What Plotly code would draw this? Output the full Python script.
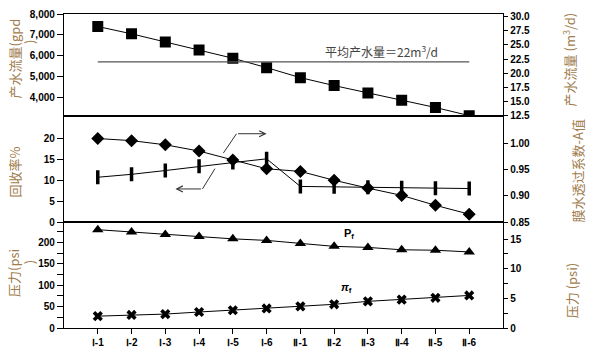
import plotly.graph_objects as go
from plotly.subplots import make_subplots

# ---------------- data ----------------
categories = ["Ⅰ-1", "Ⅰ-2", "Ⅰ-3", "Ⅰ-4", "Ⅰ-5", "Ⅰ-6",
              "Ⅱ-1", "Ⅱ-2", "Ⅱ-3", "Ⅱ-4", "Ⅱ-5", "Ⅱ-6"]
permeate_flow_gpd = [7400, 7050, 6660, 6280, 5880, 5430, 4950, 4570, 4220, 3870, 3520, 3130]
avg_flow_m3d = 22
recovery_pct = [10.7, 11.4, 12.3, 13.3, 14.2, 15.1, 8.5, 8.4, 8.3, 8.2, 8.1, 8.0]
a_value = [1.010, 1.006, 0.998, 0.986, 0.969, 0.952, 0.947, 0.930, 0.915, 0.901, 0.882, 0.865]
feed_pressure_psi = [230, 224.5, 219, 214, 208.6, 205, 198, 191, 188.6, 183, 182, 178]
osmotic_pressure_psi = [2.0, 2.2, 2.35, 2.7, 3.0, 3.3, 3.65, 4.0, 4.5, 4.8, 5.1, 5.5]

# ---------------- figure ----------------
W, H = 590, 356
L, R, T, B = 64, 59, 8, 23
PW, PH = W - L - R, H - T - B

def px(xp):
    return (xp - L) / PW

def py(yp):
    return (H - B - yp) / PH

TICK_FAMILY = "Liberation Sans Narrow, Arial Narrow, Arial, sans-serif"
TICK_FONT = dict(family=TICK_FAMILY, size=10, color="black", weight="bold")
TITLE_COLOR = "#a07c4c"

fig = make_subplots(rows=3, cols=1, shared_xaxes=True, vertical_spacing=0,
                    specs=[[{"secondary_y": True}]] * 3)

blk = "black"
fig.add_trace(go.Scatter(x=categories, y=permeate_flow_gpd, mode="lines+markers",
                         marker=dict(symbol="square", size=11, color=blk),
                         line=dict(color=blk, width=1)), row=1, col=1, secondary_y=False)
fig.add_trace(go.Scatter(x=[categories[0], categories[-1]], y=[avg_flow_m3d, avg_flow_m3d],
                         mode="lines", line=dict(color="#555555", width=1.3)),
              row=1, col=1, secondary_y=True)

fig.add_trace(go.Scatter(x=categories, y=recovery_pct, mode="lines+markers",
                         marker=dict(symbol="line-ns", size=10, color=blk,
                                     line=dict(color=blk, width=3.5)),
                         line=dict(color=blk, width=1)), row=2, col=1, secondary_y=False)
fig.add_trace(go.Scatter(x=categories, y=a_value, mode="lines+markers",
                         marker=dict(symbol="diamond", size=10, color=blk),
                         line=dict(color=blk, width=1)), row=2, col=1, secondary_y=True)

fig.add_trace(go.Scatter(x=categories, y=feed_pressure_psi, mode="lines+markers",
                         marker=dict(symbol="triangle-up", size=10, color=blk),
                         line=dict(color=blk, width=1)), row=3, col=1, secondary_y=False)
fig.add_trace(go.Scatter(x=categories, y=osmotic_pressure_psi, mode="lines+markers",
                         marker=dict(symbol="x", size=9, color=blk),
                         line=dict(color=blk, width=1)), row=3, col=1, secondary_y=True)

# domains (pixels: top 8-113, middle 113-223, bottom 223-333)
d_top = [py(113.3), 1]
d_mid = [py(223.3), py(113.3)]
d_bot = [0, py(223.3)]

axis_common = dict(showline=True, linecolor=blk, linewidth=1.3, showgrid=False,
                   zeroline=False, tickfont=TICK_FONT, ticks="outside",
                   tickcolor=blk, tickwidth=1.3)

xcommon = dict(type="category", range=[-1, 12], showline=True, linecolor=blk,
               linewidth=1.3, mirror=True, showgrid=False, zeroline=False)
fig.update_layout(
    xaxis=dict(**xcommon, showticklabels=False, ticks=""),
    xaxis2=dict(**xcommon, showticklabels=False, ticks=""),
    xaxis3=dict(**xcommon, ticks="outside", ticklen=5, tickcolor=blk, tickwidth=1.3,
                tickfont=TICK_FONT),
    yaxis=dict(**axis_common, domain=d_top, range=[3125, 8000], ticklen=6,
               tickvals=[4000, 5000, 6000, 7000, 8000], tickformat=",d"),
    yaxis2=dict(**axis_common, domain=d_top, range=[12.5, 30.46], ticklen=4,
                tickvals=[12.5, 15, 17.5, 20, 22.5, 25, 27.5, 30], tickformat=".1f"),
    yaxis3=dict(**axis_common, domain=d_mid, range=[0, 25.4], ticklen=6,
                tickvals=[0, 5, 10, 15, 20]),
    yaxis4=dict(**axis_common, domain=d_mid, range=[0.85, 1.0537], ticklen=4,
                tickvals=[0.85, 0.90, 0.95, 1.00], tickformat=".2f"),
    yaxis5=dict(**axis_common, domain=d_bot, range=[0, 248], ticklen=6,
                tickvals=[0, 50, 100, 150, 200],
                minor=dict(tickvals=[25, 75, 125, 175, 225], ticks="outside",
                           ticklen=6, tickcolor=blk, tickwidth=1.3)),
    yaxis6=dict(**axis_common, domain=d_bot, range=[0, 17.9], ticklen=4,
                tickvals=[0, 5, 10, 15],
                minor=dict(tickvals=[2.5, 7.5, 12.5], ticks="outside",
                           ticklen=4, tickcolor=blk, tickwidth=1.3)),
)

annotations = []

def title(text, xp, yp, size=13):
    annotations.append(dict(text=text, x=px(xp), y=py(yp), xref="paper", yref="paper",
                            showarrow=False, textangle=-90, xanchor="center",
                            yanchor="middle",
                            font=dict(family="Noto Sans CJK SC, sans-serif", size=size,
                                      color=TITLE_COLOR)))

title("产水流量(gpd", 14, 54)
title(")", 29, 37)
title("回收率%", 14, 172)
title("压力(psi", 14, 276)
title(")", 29, 265)
title("产水流量 (m<sup>3</sup>/d)", 569, 55)
title("膜水透过系数-A值", 577, 171)
title("压力 (psi)", 571, 295)

annotations.append(dict(text="平均产水量＝22m<sup>3</sup>/d", x=8.39, y=23.9, xref="x", yref="y2",
                        showarrow=False, xanchor="center", yanchor="middle",
                        font=dict(family="Noto Sans CJK SC, sans-serif", size=12, color="#444444")))
annotations.append(dict(text="<b>P<sub>f</sub></b>", x=7.45, y=219, xref="x3", yref="y5",
                        showarrow=False, xanchor="center", yanchor="middle",
                        font=dict(family="Arial, sans-serif", size=11, color=blk)))
annotations.append(dict(text="<b><i>π</i><sub>f</sub></b>", x=7.37, y=94, xref="x3", yref="y5",
                        showarrow=False, xanchor="center", yanchor="middle",
                        font=dict(family="Arial, sans-serif", size=11, color=blk)))

# pointer arrows in middle panel
arrow_col = "#333333"
annotations.append(dict(x=5.0, y=21.1, ax=4.11, ay=21.1, xref="x2", yref="y3",
                        axref="x2", ayref="y3", text="", showarrow=True,
                        arrowhead=5, arrowsize=1.2, arrowwidth=1, arrowcolor=arrow_col))
annotations.append(dict(x=2.3, y=7.9, ax=3.1, ay=7.9, xref="x2", yref="y3",
                        axref="x2", ayref="y3", text="", showarrow=True,
                        arrowhead=5, arrowsize=1.2, arrowwidth=1, arrowcolor=arrow_col))
shapes = [
    dict(type="line", xref="x2", yref="y3", x0=3.72, y0=16.5, x1=4.11, y1=21.1,
         line=dict(color=arrow_col, width=1)),
    dict(type="line", xref="x2", yref="y3", x0=3.47, y0=12.75, x1=3.1, y1=7.9,
         line=dict(color=arrow_col, width=1)),
]

fig.update_layout(
    width=W, height=H, margin=dict(l=L, r=R, t=T, b=B),
    paper_bgcolor="white", plot_bgcolor="white", showlegend=False,
    annotations=annotations, shapes=shapes,
)

fig.write_html("out.html", config={"displayModeBar": False},
               post_script="document.body.style.margin='0';")
